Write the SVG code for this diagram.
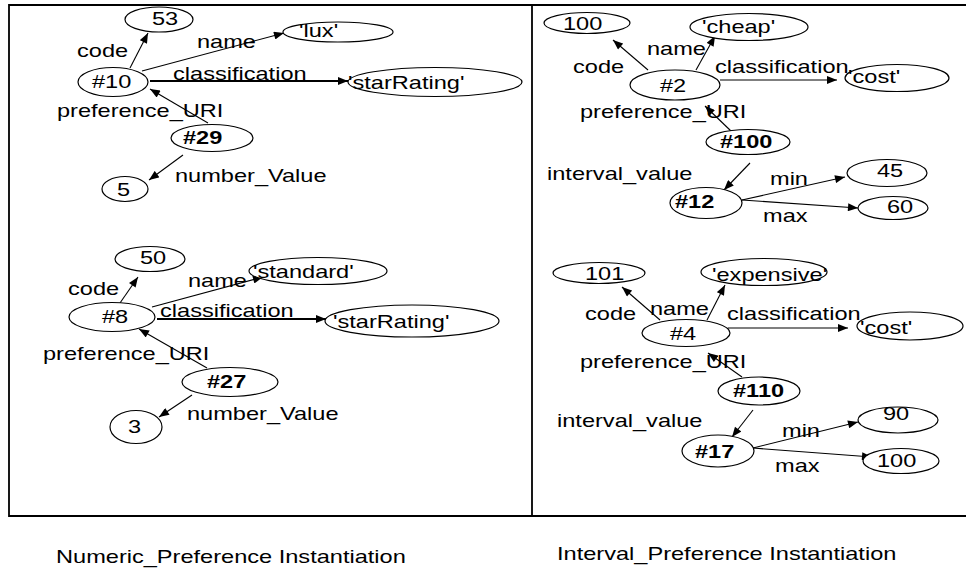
<svg xmlns="http://www.w3.org/2000/svg" width="966" height="573" viewBox="0 0 966 573">
<style>
text{font-family:"Liberation Sans",Arial,sans-serif;font-size:17.6px;fill:#000}
.b{font-weight:bold}
ellipse{fill:#fff;stroke:#000;stroke-width:1.2}
.e{stroke:#000;stroke-width:1.1;fill:none;marker-end:url(#ah)}
.t{stroke:#000;stroke-width:2.2;fill:none;marker-end:url(#ah)}
.f{stroke:#000;stroke-width:1.8;fill:none}
</style>
<defs>
<marker id="ah" markerUnits="userSpaceOnUse" viewBox="0 0 10 8" markerWidth="11" markerHeight="8" refX="10" refY="4" orient="auto">
<path d="M0,0 L10,4 L0,8 z" fill="#000"/>
</marker>
</defs>
<rect width="966" height="573" fill="#fff"/>
<g id="frame">
<path class="f" d="M966,5 H9 V516 H966 M532,5 V516"/>
</g>
<g id="connectors">
<line class="e" x1="130" y1="68" x2="148" y2="33"/>
<line class="e" x1="142" y1="71" x2="284" y2="33"/>
<line class="t" x1="150" y1="81" x2="348" y2="81"/>
<line class="e" x1="208" y1="123" x2="150" y2="89"/>
<line class="e" x1="183" y1="155" x2="149" y2="180"/>
<line class="e" x1="120" y1="303" x2="138" y2="277"/>
<line class="e" x1="152" y1="307" x2="263" y2="277"/>
<line class="t" x1="157" y1="319" x2="326" y2="319"/>
<line class="e" x1="207" y1="368" x2="139" y2="329"/>
<line class="e" x1="192" y1="395" x2="159" y2="417"/>
<line class="e" x1="648" y1="70" x2="613" y2="40"/>
<line class="e" x1="696" y1="70" x2="715" y2="36"/>
<line class="e" x1="720" y1="80" x2="837" y2="80"/>
<line class="e" x1="732" y1="132" x2="705" y2="106"/>
<line class="e" x1="750" y1="163" x2="724" y2="190"/>
<line class="e" x1="742" y1="200" x2="845" y2="177"/>
<line class="e" x1="742" y1="200" x2="858" y2="208"/>
<line class="e" x1="660" y1="320" x2="622" y2="287"/>
<line class="e" x1="707" y1="320" x2="725" y2="285"/>
<line class="e" x1="728" y1="328" x2="848" y2="328"/>
<line class="e" x1="742" y1="377" x2="708" y2="353"/>
<line class="e" x1="753" y1="410" x2="732" y2="437"/>
<line class="e" x1="753" y1="448" x2="858" y2="422"/>
<line class="e" x1="753" y1="448" x2="872" y2="457"/>
<text transform="matrix(1.34 0 0 1 77 57)">code</text>
<text transform="matrix(1.34 0 0 1 197 48)">name</text>
<text transform="matrix(1.34 0 0 1 173 80)">classification</text>
<text transform="matrix(1.34 0 0 1 57 117)">preference_URI</text>
<text transform="matrix(1.34 0 0 1 175 182)">number_Value</text>
<text transform="matrix(1.34 0 0 1 68 295)">code</text>
<text transform="matrix(1.34 0 0 1 188 287)">name</text>
<text transform="matrix(1.34 0 0 1 160 317)">classification</text>
<text transform="matrix(1.34 0 0 1 43 360)">preference_URI</text>
<text transform="matrix(1.34 0 0 1 187 420)">number_Value</text>
<text transform="matrix(1.34 0 0 1 573 73)">code</text>
<text transform="matrix(1.34 0 0 1 647 55)">name</text>
<text transform="matrix(1.34 0 0 1 715 73)">classification</text>
<text transform="matrix(1.34 0 0 1 580 118)">preference_URI</text>
<text transform="matrix(1.34 0 0 1 547 180)">interval_value</text>
<text transform="matrix(1.34 0 0 1 770 185)">min</text>
<text transform="matrix(1.34 0 0 1 763 222)">max</text>
<text transform="matrix(1.34 0 0 1 585 320)">code</text>
<text transform="matrix(1.34 0 0 1 650 315)">name</text>
<text transform="matrix(1.34 0 0 1 727 320)">classification</text>
<text transform="matrix(1.34 0 0 1 580 368)">preference_URI</text>
<text transform="matrix(1.34 0 0 1 557 427)">interval_value</text>
<text transform="matrix(1.34 0 0 1 782 437)">min</text>
<text transform="matrix(1.34 0 0 1 775 472)">max</text>
</g>
<g id="n53"><ellipse cx="159" cy="19.5" rx="34" ry="12.5"/><text transform="matrix(1.34 0 0 1 152 25)">53</text></g>
<g id="nlux"><ellipse cx="338" cy="32" rx="55" ry="10"/><text transform="matrix(1.34 0 0 1 299 37)">'lux'</text></g>
<g id="n10"><ellipse cx="113" cy="82" rx="35" ry="14.5"/><text transform="matrix(1.34 0 0 1 92 88)">#10</text></g>
<g id="nstar1"><ellipse cx="435" cy="82" rx="87" ry="14.5"/><text transform="matrix(1.34 0 0 1 348 89)">'starRating'</text></g>
<g id="n29"><ellipse cx="212" cy="138" rx="41" ry="13.5"/><text class="b" transform="matrix(1.34 0 0 1 183 144)">#29</text></g>
<g id="n5"><ellipse cx="125" cy="189" rx="23" ry="12.5"/><text transform="matrix(1.34 0 0 1 117 196)">5</text></g>
<g id="n50"><ellipse cx="150" cy="259" rx="35" ry="12.5"/><text transform="matrix(1.34 0 0 1 140 264)">50</text></g>
<g id="nstandard"><ellipse cx="318" cy="271" rx="69" ry="13.5"/><text transform="matrix(1.34 0 0 1 253 278)">'standard'</text></g>
<g id="n8"><ellipse cx="112" cy="317" rx="43" ry="14.5"/><text transform="matrix(1.34 0 0 1 102 323)">#8</text></g>
<g id="nstar2"><ellipse cx="412" cy="321" rx="87" ry="16"/><text transform="matrix(1.34 0 0 1 333 328)">'starRating'</text></g>
<g id="n27"><ellipse cx="230" cy="382" rx="48" ry="14.5"/><text class="b" transform="matrix(1.34 0 0 1 207 388)">#27</text></g>
<g id="n3"><ellipse cx="136" cy="427" rx="26" ry="16.5"/><text transform="matrix(1.34 0 0 1 128 433)">3</text></g>
<g id="n100a"><ellipse cx="587" cy="23" rx="43" ry="10.5"/><text transform="matrix(1.34 0 0 1 563 30)">100</text></g>
<g id="ncheap"><ellipse cx="749" cy="27" rx="59" ry="13.5"/><text transform="matrix(1.34 0 0 1 702 33)">'cheap'</text></g>
<g id="n2"><ellipse cx="675" cy="85" rx="45" ry="15"/><text transform="matrix(1.34 0 0 1 660 92)">#2</text></g>
<g id="ncost1"><ellipse cx="897" cy="78" rx="52" ry="13.5"/><text transform="matrix(1.34 0 0 1 848 83)">'cost'</text></g>
<g id="n100b"><ellipse cx="748" cy="142" rx="42" ry="12.5"/><text class="b" transform="matrix(1.34 0 0 1 720 148)">#100</text></g>
<g id="n12"><ellipse cx="706" cy="203" rx="36" ry="15.5"/><text class="b" transform="matrix(1.34 0 0 1 675 208)">#12</text></g>
<g id="n45"><ellipse cx="887" cy="173" rx="40" ry="13.5"/><text transform="matrix(1.34 0 0 1 877 177)">45</text></g>
<g id="n60"><ellipse cx="893" cy="208" rx="35" ry="11.5"/><text transform="matrix(1.34 0 0 1 887 213)">60</text></g>
<g id="n101"><ellipse cx="599" cy="273" rx="46" ry="10.5"/><text transform="matrix(1.34 0 0 1 585 280)">101</text></g>
<g id="nexpensive"><ellipse cx="764" cy="272" rx="63" ry="13.5"/><text transform="matrix(1.34 0 0 1 712 281)">'expensive'</text></g>
<g id="n4"><ellipse cx="686" cy="333" rx="44" ry="13.5"/><text transform="matrix(1.34 0 0 1 670 340)">#4</text></g>
<g id="ncost2"><ellipse cx="910" cy="326" rx="53" ry="14"/><text transform="matrix(1.34 0 0 1 860 334)">'cost'</text></g>
<g id="n110"><ellipse cx="759" cy="391" rx="41" ry="14"/><text class="b" transform="matrix(1.34 0 0 1 733 397)">#110</text></g>
<g id="n17"><ellipse cx="718" cy="451" rx="36" ry="16"/><text class="b" transform="matrix(1.34 0 0 1 695 458)">#17</text></g>
<g id="n90"><ellipse cx="898" cy="420" rx="40" ry="13"/><text transform="matrix(1.34 0 0 1 883 420)">90</text></g>
<g id="n100c"><ellipse cx="901" cy="461" rx="38" ry="12.5"/><text transform="matrix(1.34 0 0 1 877 467)">100</text></g>
<g id="captions">
<text transform="matrix(1.34 0 0 1 56 563)">Numeric_Preference Instantiation</text>
<text transform="matrix(1.34 0 0 1 557 560)">Interval_Preference Instantiation</text>
</g>
</svg>
